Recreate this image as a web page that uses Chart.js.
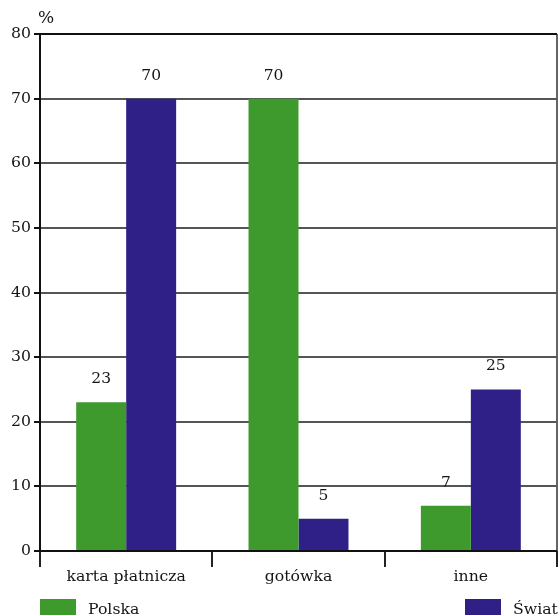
<!DOCTYPE html>
<html>
<head>
<meta charset="utf-8">
<script src="https://cdn.jsdelivr.net/npm/chart.js@4"></script>
<style>
  html, body { margin: 0; padding: 0; background: #fff; }
  #wrap { position: relative; width: 560px; height: 615px; }
</style>
</head>
<body>
<div id="wrap"><canvas id="chart" width="560" height="615"></canvas></div>
<script>
// Data
const categories = ['karta płatnicza', 'gotówka', 'inne'];
const polska = [23, 70, 7];
const swiat = [70, 5, 25];
const yTicks = [0, 10, 20, 30, 40, 50, 60, 70, 80];

const FONT = '"DejaVu Serif", "Liberation Serif", serif';
const GREEN = '#3e9a2c';
const BLUE = '#2f2088';
const TEXT = '#151515';

// Value labels above bars, "%" unit and the bottom legend
const extrasPlugin = {
    id: 'extras',
    afterDatasetsDraw(chart) {
        const ctx = chart.ctx;
        ctx.save();
        ctx.font = '15.5px ' + FONT;
        ctx.fillStyle = TEXT;
        ctx.textAlign = 'center';
        ctx.textBaseline = 'middle';
        chart.data.datasets.forEach((ds, i) => {
            chart.getDatasetMeta(i).data.forEach((bar, j) => {
                ctx.fillText(String(ds.data[j]), bar.x, bar.y - 23);
            });
        });

        // unit label
        ctx.textAlign = 'left';
        ctx.font = '17px ' + FONT;
        ctx.fillText('%', chart.chartArea.left - 2, 19);

        // legend
        ctx.font = '15.7px ' + FONT;
        const y = 599;
        const items = [
            { ds: chart.data.datasets[0], x: 40 },
            { ds: chart.data.datasets[1], x: 465 }
        ];
        items.forEach(it => {
            ctx.fillStyle = it.ds.backgroundColor;
            ctx.fillRect(it.x, y, 36, 18);
            ctx.fillStyle = TEXT;
            ctx.textBaseline = 'alphabetic';
            ctx.fillText(it.ds.label, it.x + 48, y + 15);
        });
        ctx.restore();
    }
};

const ctx = document.getElementById('chart').getContext('2d');
new Chart(ctx, {
    type: 'bar',
    data: {
        labels: categories,
        datasets: [
            {
                label: 'Polska',
                data: polska,
                backgroundColor: GREEN,
                categoryPercentage: 0.58,
                barPercentage: 1
            },
            {
                label: 'Świat',
                data: swiat,
                backgroundColor: BLUE,
                categoryPercentage: 0.58,
                barPercentage: 1
            }
        ]
    },
    options: {
        responsive: false,
        animation: false,
        layout: { padding: { top: 34, right: 3, left: 0, bottom: 0 } },
        plugins: {
            legend: { display: false },
            tooltip: { enabled: false }
        },
        scales: {
            x: {
                offset: true,
                grid: {
                    offset: true,
                    // only the closing line on the right is visible inside the plot
                    color: c => (c.index === undefined || c.index >= categories.length ? '#666' : 'rgba(0,0,0,0)'),
                    lineWidth: 2,
                    tickColor: '#222',
                    tickLength: 16,
                    drawTicks: true
                },
                border: { display: false },
                ticks: {
                    color: TEXT,
                    padding: 1,
                    font: { family: FONT, size: 15.7 },
                    maxRotation: 0
                },
                afterFit(scale) { scale.height = 64; }
            },
            y: {
                min: 0,
                max: 80,
                afterBuildTicks(scale) {
                    scale.ticks = yTicks.map(v => ({ value: v }));
                },
                grid: {
                    color: c => (c.tick && (c.tick.value === 0 || c.tick.value === 80) ? '#111' : '#555'),
                    lineWidth: 2,
                    tickColor: '#111',
                    tickLength: 6
                },
                border: { color: '#111', width: 2 },
                ticks: {
                    color: TEXT,
                    padding: 3,
                    font: { family: FONT, size: 15.7 }
                },
                afterFit(scale) { scale.width = 40; }
            }
        }
    },
    plugins: [extrasPlugin]
});
</script>
</body>
</html>
